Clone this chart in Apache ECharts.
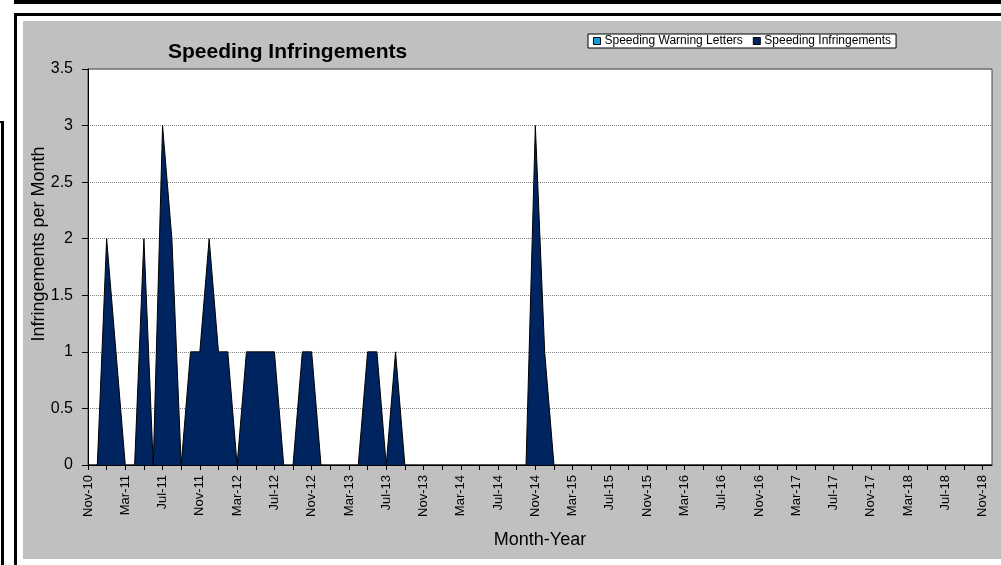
<!DOCTYPE html>
<html>
<head>
<meta charset="utf-8">
<script src="https://cdn.jsdelivr.net/npm/echarts@6/dist/echarts.min.js"></script>
<style>
html,body{margin:0;padding:0;background:#fff;}
#chart{width:1001px;height:565px;}
</style>
</head>
<body>
<div id="chart"></div>
<script>
const months = [
 'Nov-10','Dec-10',
 'Jan-11','Feb-11','Mar-11','Apr-11','May-11','Jun-11','Jul-11','Aug-11','Sep-11','Oct-11','Nov-11','Dec-11',
 'Jan-12','Feb-12','Mar-12','Apr-12','May-12','Jun-12','Jul-12','Aug-12','Sep-12','Oct-12','Nov-12','Dec-12',
 'Jan-13','Feb-13','Mar-13','Apr-13','May-13','Jun-13','Jul-13','Aug-13','Sep-13','Oct-13','Nov-13','Dec-13',
 'Jan-14','Feb-14','Mar-14','Apr-14','May-14','Jun-14','Jul-14','Aug-14','Sep-14','Oct-14','Nov-14','Dec-14',
 'Jan-15','Feb-15','Mar-15','Apr-15','May-15','Jun-15','Jul-15','Aug-15','Sep-15','Oct-15','Nov-15','Dec-15',
 'Jan-16','Feb-16','Mar-16','Apr-16','May-16','Jun-16','Jul-16','Aug-16','Sep-16','Oct-16','Nov-16','Dec-16',
 'Jan-17','Feb-17','Mar-17','Apr-17','May-17','Jun-17','Jul-17','Aug-17','Sep-17','Oct-17','Nov-17','Dec-17',
 'Jan-18','Feb-18','Mar-18','Apr-18','May-18','Jun-18','Jul-18','Aug-18','Sep-18','Oct-18','Nov-18','Dec-18'
];
const speedingInfringements = [
 0,0,
 2,1,0,0,2,0,3,2,0,1,1,2,
 1,1,0,1,1,1,1,0,0,1,1,0,
 0,0,0,0,1,1,0,1,0,0,0,0,
 0,0,0,0,0,0,0,0,0,0,3,1,
 0,0,0,0,0,0,0,0,0,0,0,0,
 0,0,0,0,0,0,0,0,0,0,0,0,
 0,0,0,0,0,0,0,0,0,0,0,0,
 0,0,0,0,0,0,0,0,0,0,0,0
];
const speedingWarningLetters = [];
const seriesNames = ['Speeding Warning Letters','Speeding Infringements'];
const yTicks = {min:0, max:3.5, interval:0.5};
const chartTitle = 'Speeding Infringements';
const xAxisTitle = 'Month-Year';
const yAxisTitle = 'Infringements per Month';

const FONT = 'Liberation Sans, Arial, sans-serif';
const chart = echarts.init(document.getElementById('chart'), null, {renderer:'canvas'});
chart.setOption({
  animation:false,
  backgroundColor:'#ffffff',
  graphic:[
    {type:'rect', z:-10, shape:{x:23,y:21,width:978,height:538}, style:{fill:'#c0c0c0'}},
    {type:'rect', z:-9, shape:{x:14,y:0,width:987,height:4}, style:{fill:'#000'}},
    {type:'rect', z:-9, shape:{x:14,y:13,width:987,height:3}, style:{fill:'#000'}},
    {type:'rect', z:-9, shape:{x:14,y:13,width:3,height:552}, style:{fill:'#000'}},
    {type:'rect', z:-9, shape:{x:0,y:121,width:4,height:2}, style:{fill:'#000'}},
    {type:'rect', z:-9, shape:{x:1,y:121,width:3,height:444}, style:{fill:'#000'}},
    {type:'text', z:10, x:39, y:244, rotation:Math.PI/2,
     style:{text:yAxisTitle, fontFamily:FONT, fontSize:18, fill:'#000', align:'center', verticalAlign:'middle'}}
  ],
  title:{
    text:chartTitle,
    left:163, top:37,
    textStyle:{fontFamily:FONT, fontSize:21, fontWeight:'bold', color:'#000'}
  },
  legend:{
    data:seriesNames,
    left:588, top:34,
    orient:'horizontal',
    backgroundColor:'#fff',
    borderColor:'#000', borderWidth:1,
    padding:[1,5,1,5],
    itemWidth:7, itemHeight:7, itemGap:10,
    icon:'rect',
    itemStyle:{borderColor:'#000', borderWidth:1},
    textStyle:{fontFamily:FONT, fontSize:12, color:'#000', padding:[0,0,0,-1]},
    selectedMode:false
  },
  grid:{
    left:88, right:9, top:69, bottom:100,
    show:true, backgroundColor:'#fff', borderColor:'#444', borderWidth:1
  },
  xAxis:{
    type:'category',
    data:months,
    boundaryGap:false,
    name:xAxisTitle,
    nameLocation:'middle',
    nameGap:66,
    nameTextStyle:{fontFamily:FONT, fontSize:18, color:'#000'},
    axisLine:{show:true, lineStyle:{color:'#000', width:1}},
    axisTick:{show:true, interval:1, length:5, inside:false, lineStyle:{color:'#000'}},
    axisLabel:{interval:function(i){return i % 4 === 0;}, rotate:90, margin:10, fontFamily:FONT, fontSize:13, color:'#000'},
    splitLine:{show:false}
  },
  yAxis:{
    type:'value',
    min:yTicks.min, max:yTicks.max, interval:yTicks.interval,
    axisLine:{show:true, lineStyle:{color:'#000', width:1}},
    axisTick:{show:true, length:6, inside:false, lineStyle:{color:'#000'}},
    axisLabel:{margin:15, fontFamily:FONT, fontSize:16, color:'#000'},
    splitLine:{show:true, lineStyle:{color:'#808080', width:1, type:[1,1]}}
  },
  series:[
    {
      name:seriesNames[0], type:'line', data:speedingWarningLetters,
      symbol:'none',
      itemStyle:{color:'#0aa0dc'},
      lineStyle:{color:'#000', width:1},
      areaStyle:{color:'#0aa0dc', opacity:1}
    },
    {
      name:seriesNames[1], type:'line', data:speedingInfringements,
      symbol:'none',
      itemStyle:{color:'#00245f'},
      lineStyle:{color:'#000', width:1},
      areaStyle:{color:'#00245f', opacity:1}
    }
  ]
});
</script>
</body>
</html>
